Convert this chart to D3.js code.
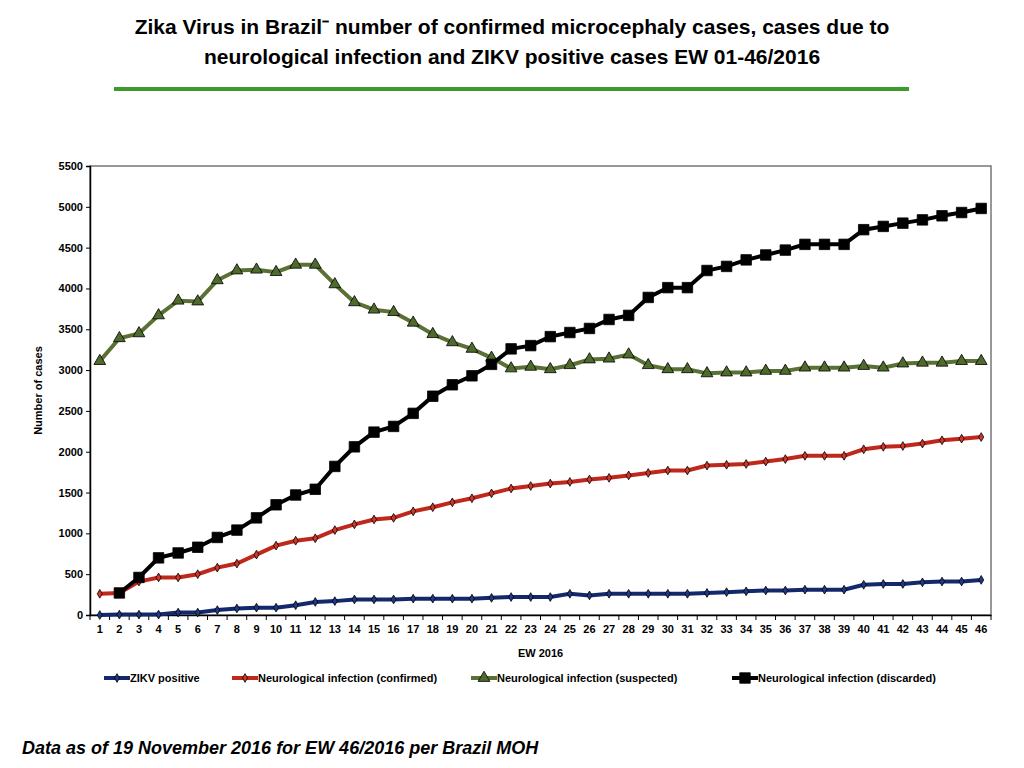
<!DOCTYPE html>
<html><head><meta charset="utf-8">
<script src="https://cdn.jsdelivr.net/npm/d3@7"></script>
<style>body{margin:0;background:#fff}svg{font-family:"Liberation Sans",Arial,sans-serif}</style>
</head><body><svg id="c" width="1024" height="768"></svg>
<script>
var weeks = d3.range(1, 47);
var zikv = [0,5,5,5,30,30,60,80,90,90,120,160,170,190,190,190,200,200,200,200,210,220,220,220,260,240,260,260,260,260,260,270,280,290,300,300,310,310,310,370,380,380,400,410,410,430];
var confirmed = [260,270,410,460,460,500,580,630,740,850,910,940,1040,1110,1170,1190,1270,1320,1380,1430,1490,1550,1580,1610,1630,1660,1680,1710,1740,1770,1770,1830,1840,1850,1880,1910,1950,1950,1950,2030,2060,2070,2100,2140,2160,2180];
var suspected = [3110,3390,3450,3670,3850,3840,4100,4220,4230,4200,4290,4290,4050,3830,3740,3710,3580,3440,3340,3260,3150,3020,3040,3010,3060,3130,3140,3190,3060,3010,3010,2960,2970,2970,2990,2990,3030,3030,3030,3050,3030,3080,3090,3090,3110,3110];
var discarded = [null,270,460,700,760,830,950,1040,1190,1350,1470,1540,1820,2060,2240,2310,2470,2680,2820,2930,3070,3260,3300,3410,3460,3510,3620,3670,3890,4010,4010,4220,4270,4350,4410,4470,4540,4540,4540,4720,4760,4800,4840,4890,4930,4980];
var yTicks = d3.range(0, 5501, 500);

var series = [
  {name:"ZIKV positive", values:zikv, line:"#13296b", fill:"#1d3a8a", sym:"diamond", size:22, w:4},
  {name:"Neurological infection (confirmed)", values:confirmed, line:"#c0281c", fill:"#d0362a", sym:"diamond", size:22, w:4},
  {name:"Neurological infection (suspected)", values:suspected, line:"#5a7035", fill:"#4e6a2c", sym:"triangle", size:60, w:4},
  {name:"Neurological infection (discarded)", values:discarded, line:"#000", fill:"#000", sym:"square", size:110, w:4}
];

var svg = d3.select("#c");
svg.append("text").attr("x",512).attr("y",34).attr("text-anchor","middle")
  .style("font-size","21px").style("font-weight","bold").text("Zika Virus in Brazil\u207B  number of  confirmed microcephaly cases, cases due to");
svg.append("text").attr("x",512).attr("y",64).attr("text-anchor","middle")
  .style("font-size","21px").style("font-weight","bold").text("neurological infection and ZIKV positive cases EW 01-46/2016");
svg.append("line").attr("x1",114).attr("x2",909).attr("y1",89).attr("y2",89).attr("stroke","#3f9a2e").attr("stroke-width",4);

var L = 90, R = 991, T = 166, B = 615;
var x = d3.scaleBand().domain(weeks).range([L, R]);
var y = d3.scaleLinear().domain([0, 5500]).range([B, T]);
var cx = function(d){ return x(d) + x.bandwidth()/2; };

svg.append("rect").attr("x",L).attr("y",T).attr("width",R-L).attr("height",B-T).attr("fill","none").attr("stroke","#777").attr("stroke-width",1.5);

var ya = svg.append("g").attr("transform","translate("+L+",0)")
  .call(d3.axisLeft(y).tickValues(yTicks).tickSize(4).tickFormat(d3.format("d")));
ya.selectAll("text").style("font-size","11px").style("font-weight","bold").attr("font-family","Liberation Sans");
var xa = svg.append("g").attr("transform","translate(0,"+B+")")
  .call(d3.axisBottom(x).tickSize(0).tickPadding(10));
xa.selectAll("text").style("font-size","11px").style("font-weight","bold").attr("font-family","Liberation Sans");
xa.selectAll(".sep").data(d3.range(0,47)).enter().append("line")
  .attr("x1",function(i){return L + i*x.step();}).attr("x2",function(i){return L + i*x.step();})
  .attr("y1",0).attr("y2",5).attr("stroke","#000");
svg.selectAll(".domain").attr("stroke","#000").attr("stroke-width",1.5);

svg.append("text").attr("transform","translate(42,"+((T+B)/2)+") rotate(-90)").attr("text-anchor","middle")
  .style("font-size","11px").style("font-weight","bold").text("Number of cases");
svg.append("text").attr("x",(L+R)/2).attr("y",657).attr("text-anchor","middle")
  .style("font-size","11px").style("font-weight","bold").text("EW 2016");

var symType = {diamond:d3.symbolDiamond, triangle:d3.symbolTriangle, square:d3.symbolSquare};
series.forEach(function(s){
  var pts = weeks.map(function(w,i){ return {w:w, v:s.values[i]}; }).filter(function(p){ return p.v != null; });
  svg.append("path").datum(pts).attr("fill","none").attr("stroke",s.line).attr("stroke-width",s.w)
    .attr("d", d3.line().x(function(p){return cx(p.w);}).y(function(p){return y(p.v);}));
  svg.append("g").selectAll("path").data(pts).enter().append("path")
    .attr("transform",function(p){return "translate("+cx(p.w)+","+y(p.v)+")";})
    .attr("d", d3.symbol().type(symType[s.sym]).size(s.size))
    .attr("fill",s.fill).attr("stroke","#000").attr("stroke-width",0.8);
});

var legX = [104, 232, 471, 732];
series.forEach(function(s,i){
  var g = svg.append("g").attr("transform","translate("+legX[i]+",678)");
  g.append("line").attr("x1",0).attr("x2",26).attr("stroke",s.line).attr("stroke-width",s.w);
  g.append("path").attr("transform","translate(13,0)").attr("d",d3.symbol().type(symType[s.sym]).size(s.size))
    .attr("fill",s.fill).attr("stroke","#000").attr("stroke-width",0.8);
  g.append("text").attr("x",26).attr("y",4).style("font-size","11px").style("font-weight","bold").text(s.name);
});

svg.append("text").attr("x",22).attr("y",754).style("font-size","18px").style("font-weight","bold").style("font-style","italic")
  .text("Data as of 19 November 2016 for EW 46/2016 per Brazil MOH");
</script></body></html>
